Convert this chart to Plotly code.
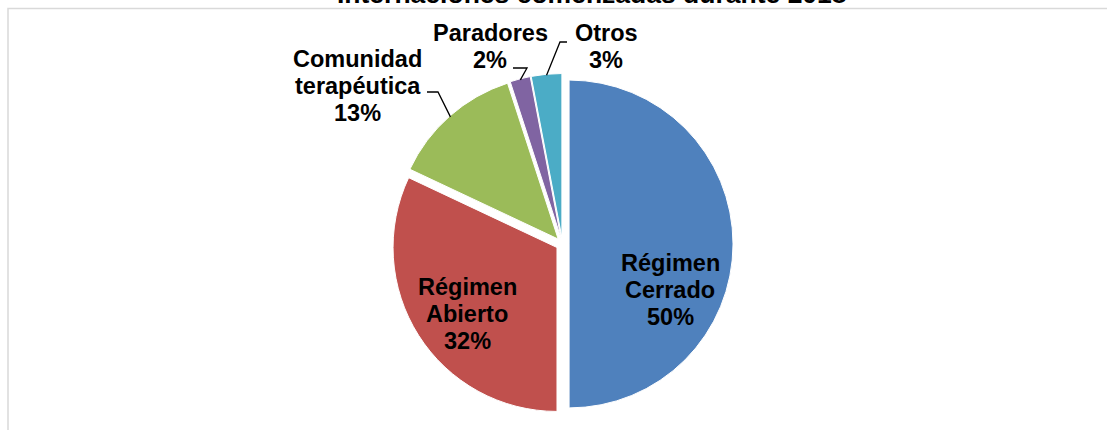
import math
import plotly.graph_objects as go

# ---- data ----
categories = ["Régimen Cerrado", "Régimen Abierto", "Comunidad terapéutica", "Paradores", "Otros"]
label_lines = [["Régimen", "Cerrado"], ["Régimen", "Abierto"], ["Comunidad", "terapéutica"], ["Paradores"], ["Otros"]]
values = [50, 32, 13, 2, 3]
title_text = "Internaciones comenzadas durante 2018"

# ---- style ----
W, H = 1107, 430
colors = ["#4F81BD", "#C0504D", "#9BBB59", "#8064A2", "#4BACC6"]
inside = [True, True, False, False, False]
pull = 0.04
dom_x = [0.3541, 0.6622]
dom_y = [0.0361, 0.8291]
FONT = "Liberation Sans, Arial, sans-serif"
FS = 23.5
LS = 27  # line spacing, px
DY = 0
# label placement (px centre of text block)
label_pos = {0: (670, 290), 1: (467, 314), 2: (357.5, 86), 3: (490, 47), 4: (606, 47)}
# leader start and elbow (px) for outside labels
out_leader = {2: ((427, 92), (438, 92)), 3: ((513, 68), (527, 68)), 4: ((567, 42), (560, 42))}

total = sum(values)
pct = [f"{round(100 * v / total)}%" for v in values]

fig = go.Figure(go.Pie(
    labels=categories,
    values=values,
    textinfo="none",
    sort=False,
    direction="clockwise",
    rotation=0,
    pull=[pull] * len(values),
    marker=dict(colors=colors, line=dict(color="white", width=1)),
    domain=dict(x=dom_x, y=dom_y),
    showlegend=False,
    hoverinfo="label+percent",
))

# geometry as plotly computes it
pw, ph = W * (dom_x[1] - dom_x[0]), H * (dom_y[1] - dom_y[0])
R = min(pw, ph) / (2 + 2 * pull)
cx = W * (dom_x[0] + dom_x[1]) / 2
cy = H * (1 - (dom_y[0] + dom_y[1]) / 2)

def px2paper(x, y):
    return x / W, 1 - y / H

annotations = []
shapes = []
cum = 0
for i, v in enumerate(values):
    theta = 2 * math.pi * (cum + v / 2) / total
    cum += v
    lx, ly = label_pos[i]
    lines = label_lines[i] + [pct[i]]
    n = len(lines)
    for k, line in enumerate(lines):
        yy = ly + DY + (k - (n - 1) / 2) * LS
        px_, py_ = px2paper(lx, yy)
        annotations.append(dict(
            x=px_, y=py_, xref="paper", yref="paper", xanchor="center", yanchor="middle",
            text=f"<b>{line}</b>", showarrow=False,
            font=dict(family=FONT, size=FS, color="black"),
        ))
    if inside[i]:
        continue
    rr = R * (1 + pull) - 1
    ax_, ay_ = cx + rr * math.sin(theta), cy - rr * math.cos(theta)
    (sx, sy), (ex, ey) = out_leader[i]
    p1 = px2paper(sx, sy)
    p2 = px2paper(ex, ey)
    p3 = px2paper(ax_, ay_)
    shapes.append(dict(
        type="path", xref="paper", yref="paper",
        path=f"M {p1[0]},{p1[1]} L {p2[0]},{p2[1]} L {p3[0]},{p3[1]}",
        line=dict(color="black", width=1.3),
    ))

# chart frame (partially visible)
shapes.append(dict(type="rect", xref="paper", yref="paper",
                   x0=8 / W, x1=1.2, y0=-0.2, y1=1 - 8.5 / H,
                   line=dict(color="#D9D9D9", width=1.5), layer="below"))

# title, mostly above the visible area
annotations.append(dict(
    x=592 / W, y=1 + 6 / H, xref="paper", yref="paper", xanchor="center", yanchor="middle",
    text=f"<b>{title_text}</b>", showarrow=False,
    font=dict(family=FONT, size=26.5, color="black"),
))

fig.update_layout(
    width=W, height=H,
    margin=dict(l=0, r=0, t=0, b=0, pad=0),
    paper_bgcolor="white", plot_bgcolor="white",
    font=dict(family=FONT, size=FS, color="black"),
    annotations=annotations,
    shapes=shapes,
)

fig.write_html("out.html", config={"displayModeBar": False},
               post_script="document.body.style.margin='0';")
